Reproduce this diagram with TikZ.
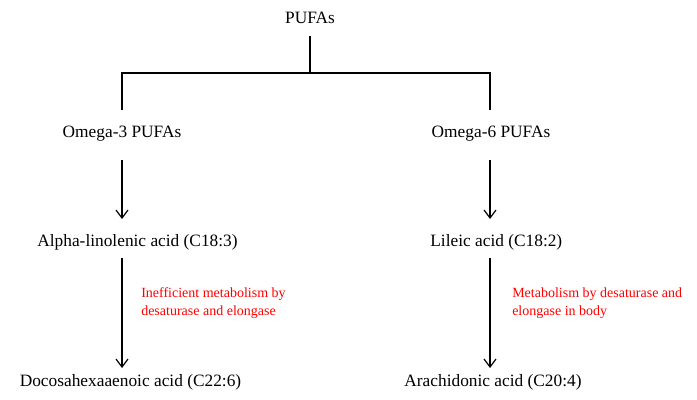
\documentclass[tikz,border=0pt]{standalone}
\usepackage{fontspec}
\setmainfont{Liberation Serif}
\usetikzlibrary{arrows.meta}
\tikzset{
  lbl/.style={inner sep=0pt, font=\fontsize{13}{15}\selectfont},
  note/.style={inner sep=0pt, align=left, text=red, font=\fontsize{10.5}{13.5}\selectfont},
  link/.style={line width=0.9pt},
  arr/.style={line width=0.9pt, -{Straight Barb[length=6pt,width=9pt,line width=0.9pt]}},
}
\begin{document}
\begin{tikzpicture}[x=0.75pt,y=-0.75pt]
\useasboundingbox (0,0) rectangle (697,400);
\node[lbl] (pufa) at (310,18) {PUFAs};
\node[lbl] (o3) at (122,134) {Omega-3 PUFAs};
\node[lbl] (o6) at (491,134) {Omega-6 PUFAs};
\node[lbl] (ala) at (137.5,242) {Alpha-linolenic acid (C18:3)};
\node[lbl] (la) at (496.3,242) {Lileic acid (C18:2)};
\node[lbl] (dha) at (130.5,382) {Docosahexaaenoic acid (C22:6)};
\node[lbl] (aa) at (493,382) {Arachidonic acid (C20:4)};
\node[note, anchor=west] (n1) at (141,303) {Inefficient metabolism by\\desaturase and elongase};
\node[note, anchor=west] (n2) at (512,303) {Metabolism by desaturase and\\elongase in body};
\coordinate (top) at (310,36);
\coordinate (mid) at (310,73);
\coordinate (lc) at (122,73);
\coordinate (rc) at (490,73);
\coordinate (ld) at (122,110);
\coordinate (rd) at (490,110);
\draw[link] (top) -- (mid);
\draw[link] (ld) -- (lc) -- (rc) -- (rd);
\coordinate (a1s) at (122,160); \coordinate (a1e) at (122,219);
\coordinate (a2s) at (490,160); \coordinate (a2e) at (490,219);
\coordinate (a3s) at (122,258); \coordinate (a3e) at (122,368);
\coordinate (a4s) at (490,258); \coordinate (a4e) at (490,368);
\draw[arr] (a1s) -- (a1e);
\draw[arr] (a2s) -- (a2e);
\draw[arr] (a3s) -- (a3e);
\draw[arr] (a4s) -- (a4e);
\end{tikzpicture}
\end{document}
